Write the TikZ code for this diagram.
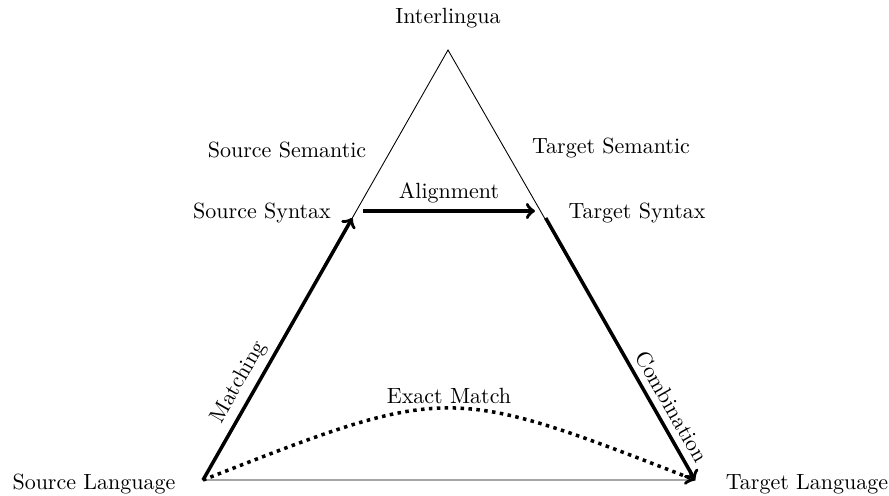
\documentclass[tikz,border=0pt]{standalone}
\begin{document}
\begin{tikzpicture}[x=0.4545pt,y=-0.4545pt,
  edge/.style={thin},
  flow/.style={ultra thick,->},
  lbl/.style={inner sep=1pt}]
\useasboundingbox (0,0) rectangle (889,495);
% corners of the triangle and the syntax level
\coordinate (apex) at (448,50);
\coordinate (sl) at (203,480);
\coordinate (tl) at (695,480);
\coordinate (ss) at (352.3,218);
\coordinate (ts) at (545.7,218);
\coordinate (as) at (363,211);
\coordinate (at) at (535,211);
% triangle
\draw[edge] (sl) -- (apex) -- (tl) -- cycle;
% labels
\node[lbl] (il) at (448,18) {Interlingua};
\node[lbl] (sem1) at (287,150) {Source Semantic};
\node[lbl] (sem2) at (611,148) {Target Semantic};
\node[lbl] (syn1) at (262,213) {Source Syntax};
\node[lbl] (syn2) at (637,213) {Target Syntax};
\node[lbl] (lang1) at (94,484) {Source Language};
\node[lbl] (lang2) at (807,484) {Target Language};
% transfer paths
\draw[flow] (sl) -- node[pos=0.34,sloped,above=1.5pt,lbl] {Matching} (ss);
\draw[flow] (as) -- node[above,lbl,yshift=2pt] {Alignment} (at);
\draw[flow] (ts) -- node[pos=0.75,sloped,above=2pt,lbl] {Combination} (tl);
\draw[flow,dotted] (sl) .. controls (448,384) .. (tl);
\node[lbl] (em) at (449,396) {Exact Match};
\end{tikzpicture}
\end{document}
